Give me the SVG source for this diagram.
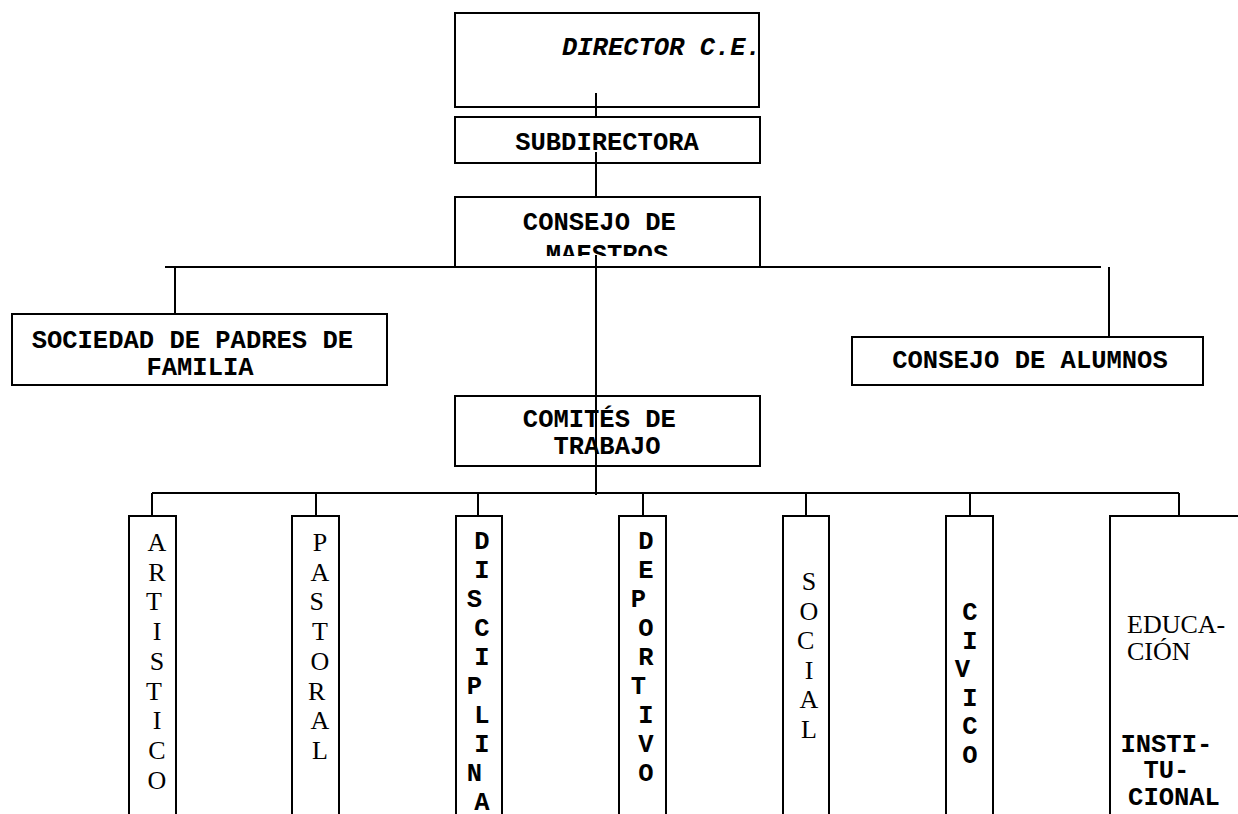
<svg xmlns="http://www.w3.org/2000/svg" width="1238" height="814" viewBox="0 0 1238 814">
  <style>
    .box{fill:#fff;stroke:#000;stroke-width:2}
    .col{fill:#fff;stroke:#000;stroke-width:2}
    .ln{stroke:#000;stroke-width:2;fill:none}
    .mono{font-family:"Liberation Mono","Courier New",monospace;font-weight:bold;font-size:25.5px;fill:#000}
    .serif{font-family:"Liberation Serif","Times New Roman",serif;font-size:26px;fill:#000}
    .mid{text-anchor:middle}
  </style>
  <defs>
    <clipPath id="clipMaestros"><rect x="455" y="197" width="305" height="59"/></clipPath>
    <clipPath id="clipTrabajo"><rect x="455" y="396" width="305" height="61"/></clipPath>
  </defs>
  <rect width="1238" height="814" fill="#fff"/>

  <g id="director">
    <rect class="box" x="455" y="13" width="304" height="94"/>
    <text class="mono" x="562" y="55" font-style="italic">DIRECTOR C.E.</text>
  </g>

  <g id="subdirectora">
    <rect class="box" x="455" y="117" width="305" height="46"/>
    <text class="mono mid" x="607" y="150">SUBDIRECTORA</text>
  </g>

  <g id="consejo-maestros">
    <rect class="box" x="455" y="197" width="305" height="70"/>
    <text class="mono mid" clip-path="url(#clipMaestros)">
      <tspan x="607" y="230">CONSEJO DE</tspan>
      <tspan x="607" y="262">MAESTROS</tspan>
    </text>
  </g>

  <g id="sociedad-padres">
    <rect class="box" x="12" y="314" width="375" height="71"/>
    <text class="mono mid">
      <tspan x="200" y="348">SOCIEDAD DE PADRES DE</tspan>
      <tspan x="200" y="375">FAMILIA</tspan>
    </text>
  </g>

  <g id="consejo-alumnos">
    <rect class="box" x="852" y="337" width="351" height="48"/>
    <text class="mono mid" x="1030" y="368">CONSEJO DE ALUMNOS</text>
  </g>

  <g id="comites">
    <rect class="box" x="455" y="396" width="305" height="70"/>
    <text class="mono mid" clip-path="url(#clipTrabajo)">
      <tspan x="607" y="427">COMITÉS DE</tspan>
      <tspan x="607" y="454">TRABAJO</tspan>
    </text>
  </g>

  <!-- committee columns run off the bottom edge, so only three sides are stroked -->
  <g id="artistico">
    <path class="col" d="M129 815V516H176V815"/>
    <text class="serif mid">
      <tspan x="157" y="551">A</tspan><tspan x="157" y="580.7">R</tspan><tspan x="157" y="610.4">T</tspan>
      <tspan x="157" y="640.1">I</tspan><tspan x="157" y="669.8">S</tspan><tspan x="157" y="699.5">T</tspan>
      <tspan x="157" y="729.2">I</tspan><tspan x="157" y="758.9">C</tspan><tspan x="157" y="788.6">O</tspan>
    </text>
  </g>

  <g id="pastoral">
    <path class="col" d="M292 815V516H339V815"/>
    <text class="serif mid">
      <tspan x="320" y="551">P</tspan><tspan x="320" y="580.7">A</tspan><tspan x="320" y="610.4">S</tspan>
      <tspan x="320" y="640.1">T</tspan><tspan x="320" y="669.8">O</tspan><tspan x="320" y="699.5">R</tspan>
      <tspan x="320" y="729.2">A</tspan><tspan x="320" y="758.9">L</tspan>
    </text>
  </g>

  <g id="disciplina">
    <path class="col" d="M456 815V516H502V815"/>
    <text class="mono mid">
      <tspan x="482" y="549">D</tspan><tspan x="482" y="578">I</tspan><tspan x="482" y="607">S</tspan>
      <tspan x="482" y="636">C</tspan><tspan x="482" y="665">I</tspan><tspan x="482" y="694">P</tspan>
      <tspan x="482" y="723">L</tspan><tspan x="482" y="752">I</tspan><tspan x="482" y="781">N</tspan>
      <tspan x="482" y="810">A</tspan>
    </text>
  </g>

  <g id="deportivo">
    <path class="col" d="M619 815V516H666V815"/>
    <text class="mono mid">
      <tspan x="646" y="549">D</tspan><tspan x="646" y="578">E</tspan><tspan x="646" y="607">P</tspan>
      <tspan x="646" y="636">O</tspan><tspan x="646" y="665">R</tspan><tspan x="646" y="694">T</tspan>
      <tspan x="646" y="723">I</tspan><tspan x="646" y="752">V</tspan><tspan x="646" y="781">O</tspan>
    </text>
  </g>

  <g id="social">
    <path class="col" d="M783 815V516H829V815"/>
    <text class="serif mid">
      <tspan x="809" y="590">S</tspan><tspan x="809" y="619.6">O</tspan><tspan x="809" y="649.2">C</tspan>
      <tspan x="809" y="678.8">I</tspan><tspan x="809" y="708.4">A</tspan><tspan x="809" y="738">L</tspan>
    </text>
  </g>

  <g id="civico">
    <path class="col" d="M946 815V516H993V815"/>
    <text class="mono mid">
      <tspan x="970" y="620">C</tspan><tspan x="970" y="648.6">I</tspan><tspan x="970" y="677.2">V</tspan>
      <tspan x="970" y="705.8">I</tspan><tspan x="970" y="734.4">C</tspan><tspan x="970" y="763">O</tspan>
    </text>
  </g>

  <g id="educacion">
    <path class="col" d="M1110 815V516H1240"/>
    <text class="serif">
      <tspan x="1127" y="633">EDUCA-</tspan>
      <tspan x="1127" y="660">CIÓN</tspan>
    </text>
    <text class="mono mid" font-size="24">
      <tspan x="1174" y="752">INSTI-</tspan>
      <tspan x="1174" y="778">TU-</tspan>
      <tspan x="1174" y="805">CIONAL</tspan>
    </text>
  </g>

  <g id="connectors">
    <path class="ln" d="M596 93V117"/>
    <path class="ln" d="M596 152V198"/>
    <path class="ln" d="M596 255V495"/>
    <path class="ln" d="M165 267H1101"/>
    <path class="ln" d="M175 267V314"/>
    <path class="ln" d="M1109 267V337"/>
    <path class="ln" d="M152 493H1179"/>
    <path class="ln" d="M152 493V516M316 493V516M478 493V516M643 493V516M806 493V516M970 493V516M1179 493V516"/>
  </g>
</svg>
